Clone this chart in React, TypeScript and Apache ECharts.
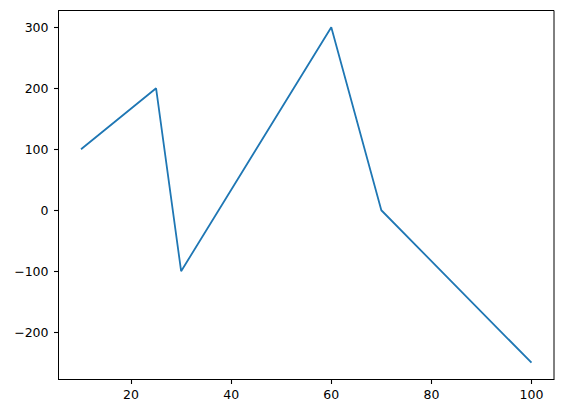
import React, { useRef, useEffect } from 'react';
import * as echarts from 'echarts';

const xValues = [10, 25, 30, 60, 70, 100];
const yValues = [100, 200, -100, 300, 0, -250];
const xTicks = [20, 40, 60, 80, 100];
const yTicks = [-200, -100, 0, 100, 200, 300];

const fmt = (v: number) => String(v).replace('-', '\u2212');

export default function App() {
  const chartRef = useRef<HTMLDivElement>(null);

  useEffect(() => {
    if (!chartRef.current) return;
    const chart = echarts.init(chartRef.current, undefined, { renderer: 'svg' });

    const axisCommon = {
      type: 'value' as const,
      axisLine: { show: true, onZero: false, lineStyle: { color: '#000', width: 1 } },
      splitLine: { show: false },
      axisTick: {
        show: true,
        inside: false,
        length: 4.5,
        lineStyle: { color: '#000', width: 1.1 },
      },
    };
    const labelStyle = {
      color: '#000',
      fontFamily: 'DejaVu Sans',
      fontSize: 12.5,
      formatter: (v: number) => fmt(v),
    };

    chart.setOption({
      animation: false,
      backgroundColor: '#fff',
      grid: {
        left: 58.5,
        right: 9,
        top: 10.5,
        bottom: 33.5,
        show: true,
        borderColor: '#000',
        borderWidth: 1,
        backgroundColor: 'transparent',
      },
      xAxis: {
        ...axisCommon,
        min: 5.5,
        max: 104.5,
        axisTick: { ...axisCommon.axisTick, customValues: xTicks },
        axisLabel: { ...labelStyle, margin: 8, customValues: xTicks },
      },
      yAxis: {
        ...axisCommon,
        min: -277.5,
        max: 327.5,
        axisTick: { ...axisCommon.axisTick, customValues: yTicks },
        axisLabel: { ...labelStyle, margin: 10, customValues: yTicks },
      },
      series: [
        {
          type: 'line',
          data: xValues.map((x, i) => [x, yValues[i]]),
          showSymbol: false,
          symbol: 'none',
          lineStyle: { color: '#1f77b4', width: 1.8 },
        },
      ],
    });

    return () => chart.dispose();
  }, []);

  return (
    <div
      ref={chartRef}
      style={{ position: 'fixed', left: 0, top: 0, width: 563, height: 413 }}
    />
  );
}
